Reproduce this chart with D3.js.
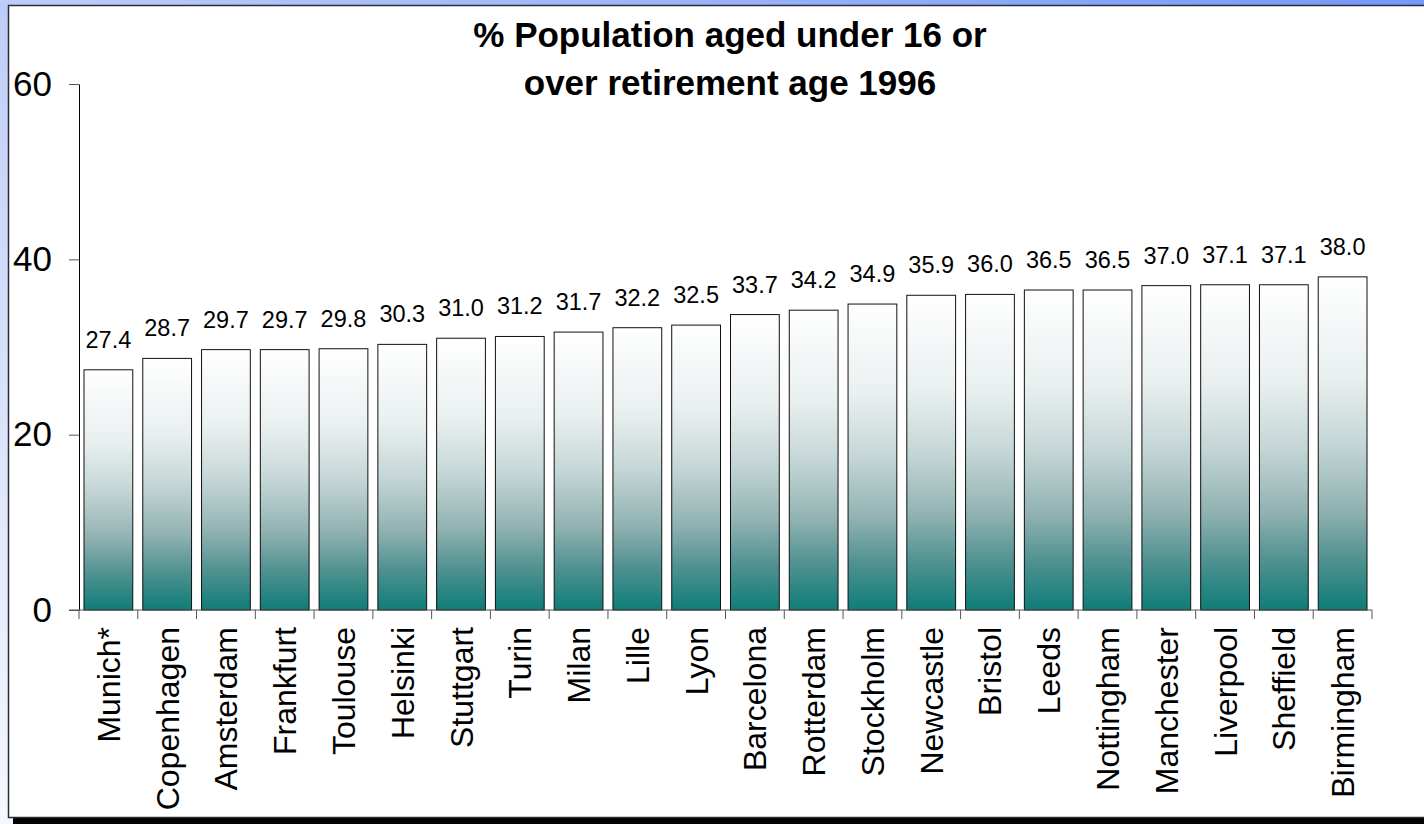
<!DOCTYPE html>
<html>
<head>
<meta charset="utf-8">
<script src="https://cdn.jsdelivr.net/npm/d3@7"></script>
<style>
  body { margin: 0; padding: 0; overflow: hidden; }
  svg { display: block; }
</style>
</head>
<body>
<div id="chart"></div>
<script>
const w = 1424;
const h = 824;

const cities = ["Munich*", "Copenhagen", "Amsterdam", "Frankfurt", "Toulouse", "Helsinki",
  "Stuttgart", "Turin", "Milan", "Lille", "Lyon", "Barcelona", "Rotterdam", "Stockholm",
  "Newcastle", "Bristol", "Leeds", "Nottingham", "Manchester", "Liverpool", "Sheffield", "Birmingham"];
const values = [27.4, 28.7, 29.7, 29.7, 29.8, 30.3, 31.0, 31.2, 31.7, 32.2, 32.5, 33.7,
  34.2, 34.9, 35.9, 36.0, 36.5, 36.5, 37.0, 37.1, 37.1, 38.0];
const yTicks = [0, 20, 40, 60];
const titleLines = ["% Population aged under 16 or", "over retirement age 1996"];

const data = cities.map((c, i) => ({ city: c, value: values[i] }));

const plot = { left: 79, right: 1372, top: 84, bottom: 610 };

const svg = d3.select("#chart").append("svg").attr("width", w).attr("height", h);
const defs = svg.append("defs");

// background gradient (slide style)
const bg = defs.append("linearGradient").attr("id", "bg")
  .attr("x1", "100%").attr("y1", "0%").attr("x2", "0%").attr("y2", "100%");
bg.append("stop").attr("offset", "0%").attr("stop-color", "#7499f7");
bg.append("stop").attr("offset", "55%").attr("stop-color", "#c4d2f8");
bg.append("stop").attr("offset", "100%").attr("stop-color", "#f6f8fe");

// bar fill gradient
const bar = defs.append("linearGradient").attr("id", "barFill")
  .attr("x1", "0%").attr("y1", "0%").attr("x2", "0%").attr("y2", "100%");
[["0%", "#ffffff"], ["30%", "#e9efef"], ["50%", "#c5d6d6"], ["70%", "#90b2b1"],
 ["85%", "#4f9190"], ["100%", "#0e7d78"]].forEach(s => {
  bar.append("stop").attr("offset", s[0]).attr("stop-color", s[1]);
});

svg.append("rect").attr("width", w).attr("height", h).attr("fill", "url(#bg)");

// panel with drop shadow
svg.append("rect").attr("x", 13).attr("y", 11).attr("width", w).attr("height", 813).attr("fill", "#000");
svg.append("rect").attr("x", 8.5).attr("y", 5.5).attr("width", w).attr("height", 812)
  .attr("fill", "#fff").attr("stroke", "#2b2b3a").attr("stroke-width", 1.5);

const x = d3.scaleBand().domain(cities).range([plot.left, plot.right]).paddingInner(0.17).paddingOuter(0.085);
const y = d3.scaleLinear().domain([0, 60]).range([plot.bottom, plot.top]);

// bars
svg.selectAll("rect.bar").data(data).enter().append("rect")
  .attr("class", "bar")
  .attr("x", d => x(d.city))
  .attr("y", d => y(d.value))
  .attr("width", x.bandwidth())
  .attr("height", d => y(0) - y(d.value))
  .attr("fill", "url(#barFill)")
  .attr("stroke", "#111")
  .attr("stroke-width", 1);

// value labels
svg.selectAll("text.val").data(data).enter().append("text")
  .attr("class", "val")
  .attr("x", d => x(d.city) + x.bandwidth() / 2)
  .attr("y", d => y(d.value) - 22)
  .attr("text-anchor", "middle")
  .style("font-family", "Liberation Sans, Arial, sans-serif")
  .style("font-size", "23.5px")
  .attr("fill", "#000")
  .text(d => d.value.toFixed(1));

// y axis
const yAxis = svg.append("g")
  .attr("transform", "translate(" + plot.left + ",0)")
  .call(d3.axisLeft(y).tickValues(yTicks).tickSize(10).tickPadding(17).tickSizeOuter(0));
yAxis.select(".domain").attr("stroke", "#000");
yAxis.selectAll(".tick line").attr("stroke", "#555");
yAxis.selectAll("text")
  .style("font-family", "Liberation Sans, Arial, sans-serif")
  .style("font-size", "35px")
  .attr("fill", "#000");

// x axis with ticks at band boundaries
const xAxis = svg.append("g").attr("transform", "translate(0," + plot.bottom + ")");
xAxis.append("line").attr("x1", plot.left - 10).attr("x2", plot.right)
  .attr("stroke", "#555").attr("stroke-width", 1);
const step = x.step();
const bounds = d3.range(cities.length + 1).map(i => plot.left + x.paddingOuter() * step - x.paddingInner() * step / 2 + i * step);
xAxis.selectAll("line.tk").data(bounds).enter().append("line")
  .attr("class", "tk")
  .attr("x1", d => d).attr("x2", d => d)
  .attr("y1", 0).attr("y2", 9)
  .attr("stroke", "#555");

xAxis.selectAll("text.cat").data(cities).enter().append("text")
  .attr("class", "cat")
  .attr("transform", d => "translate(" + (x(d) + x.bandwidth() / 2 + 11.5) + ",17)rotate(-90)")
  .attr("text-anchor", "end")
  .style("font-family", "Liberation Sans, Arial, sans-serif")
  .style("font-size", "32px")
  .attr("fill", "#000")
  .text(d => d);

// title
svg.selectAll("text.title").data(titleLines).enter().append("text")
  .attr("class", "title")
  .attr("x", 730)
  .attr("y", (d, i) => 47 + i * 48)
  .attr("text-anchor", "middle")
  .style("font-family", "Liberation Sans, Arial, sans-serif")
  .style("font-weight", "bold")
  .style("font-size", "35px")
  .attr("fill", "#000")
  .text(d => d);
</script>
</body>
</html>
